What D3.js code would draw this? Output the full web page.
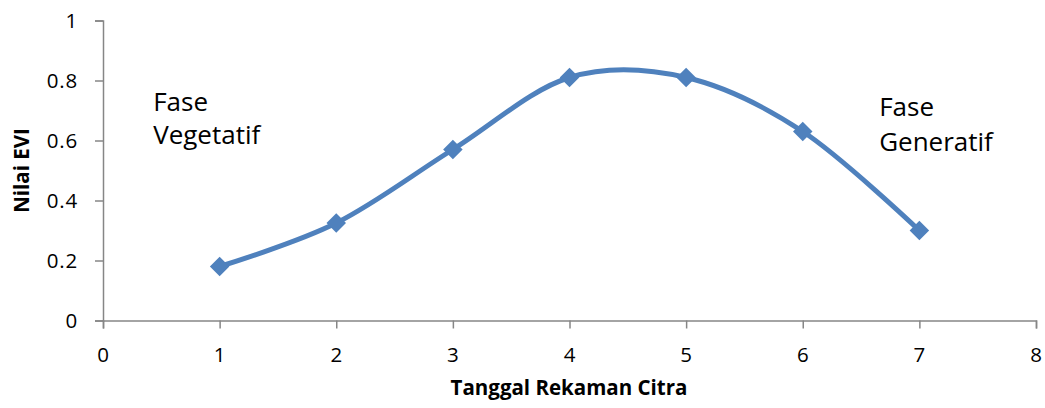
<!DOCTYPE html>
<html>
<head>
<meta charset="utf-8">
<script src="https://cdn.jsdelivr.net/npm/d3@7"></script>
<style>
  html, body { margin: 0; padding: 0; background: #fff; }
  svg { display: block; }
  text { font-family: "Open Sans", Lato, sans-serif; fill: #000; }
</style>
</head>
<body>
<svg id="chart" width="1045" height="408"></svg>
<script>
// EVI values per image acquisition
const dates = [1, 2, 3, 4, 5, 6, 7];
const evi = [0.18, 0.325, 0.57, 0.81, 0.81, 0.63, 0.30];
const xTicks = [0, 1, 2, 3, 4, 5, 6, 7, 8];
const yTicks = [0, 0.2, 0.4, 0.6, 0.8, 1];
const phaseText = [["Fase", "Vegetatif"], ["Fase", "Generatif"]];
// anchor of each phase note, in data units
const phaseAnchor = [[0.43, 0.70], [6.655, 0.683]];

const svg = d3.select("#chart");
const plotLeft = 103, plotRight = 1036, plotTop = 20.5, plotBottom = 320.5;

const x = d3.scaleLinear().domain([0, 8]).range([plotLeft, plotRight]);
const y = d3.scaleLinear().domain([0, 1]).range([plotBottom, plotTop]);
const axisColor = "#868686";
const blue = "#4F81BD";

// Y axis
const yAxis = svg.append("g")
  .attr("transform", `translate(${plotLeft},0)`)
  .call(d3.axisLeft(y).tickValues(yTicks).tickSize(8).tickPadding(17)
    .tickFormat(d => d === 0 ? "0" : d === 1 ? "1" : d3.format(".1f")(d)));

// X axis
const xAxis = svg.append("g")
  .attr("transform", `translate(0,${plotBottom})`)
  .call(d3.axisBottom(x).tickValues(xTicks).tickSize(8).tickPadding(19)
    .tickFormat(d3.format("d")));

[yAxis, xAxis].forEach(g => {
  g.select(".domain").attr("stroke", axisColor).attr("stroke-width", 1.5);
  g.selectAll(".tick line").attr("stroke", axisColor).attr("stroke-width", 1.5);
  g.selectAll(".tick text").attr("font-size", 20.5).attr("fill", "#000")
    .attr("letter-spacing", 0.8)
    .attr("font-family", "'Open Sans', Lato, sans-serif");
});

// Smoothed series line
const pts = dates.map((d, i) => [d, evi[i]]);
const line = d3.line()
  .x(d => x(d[0])).y(d => y(d[1]))
  .curve(d3.curveCardinal.tension(0));

svg.append("path")
  .datum(pts)
  .attr("d", line)
  .attr("fill", "none")
  .attr("stroke", blue)
  .attr("stroke-width", 5)
  .attr("stroke-linejoin", "round");

// Diamond markers
svg.selectAll(".marker")
  .data(pts)
  .enter().append("path")
  .attr("class", "marker")
  .attr("transform", d => `translate(${x(d[0])},${y(d[1])}) rotate(45)`)
  .attr("d", d3.symbol().type(d3.symbolSquare).size(190)())
  .attr("fill", blue);

// Phase annotations
const lineGaps = [33.5, 35.5];
phaseText.forEach((lines, k) => {
  const [ax, ay] = phaseAnchor[k];
  const t = svg.append("text")
    .attr("x", x(ax)).attr("y", y(ay))
    .attr("font-size", 26);
  lines.forEach((s, i) => {
    t.append("tspan").attr("x", x(ax)).attr("dy", i === 0 ? 0 : lineGaps[k]).text(s);
  });
});

// Axis titles
svg.append("text")
  .attr("x", 569).attr("y", 395)
  .attr("text-anchor", "middle")
  .attr("font-size", 20.5).attr("font-weight", "bold")
  .text("Tanggal Rekaman Citra");

svg.append("text")
  .attr("transform", `translate(29,${(plotTop + plotBottom) / 2}) rotate(-90)`)
  .attr("text-anchor", "middle")
  .attr("font-size", 20.5).attr("font-weight", "bold")
  .text("Nilai EVI");
</script>
</body>
</html>
